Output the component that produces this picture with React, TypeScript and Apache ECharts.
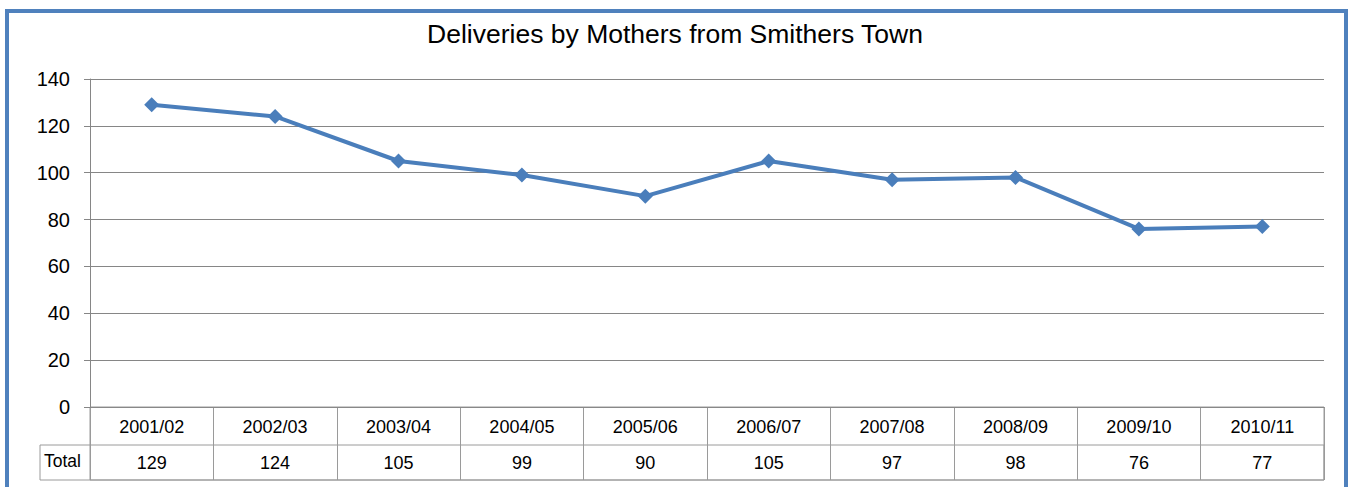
import React, { useEffect, useRef } from "react";
import * as echarts from "echarts";

const categories = ["2001/02", "2002/03", "2003/04", "2004/05", "2005/06", "2006/07", "2007/08", "2008/09", "2009/10", "2010/11"];
const totals = [129, 124, 105, 99, 90, 105, 97, 98, 76, 77];
const seriesName = "Total";
const titleText = "Deliveries by Mothers from Smithers Town";

export default function App() {
  const ref = useRef<HTMLDivElement>(null);
  useEffect(() => {
    if (!ref.current) return;
    const chart = echarts.init(ref.current, null, { renderer: "svg" });
    const font = "Liberation Sans, Arial, sans-serif";
    chart.setOption({
      animation: false,
      backgroundColor: "#ffffff",
      textStyle: { fontFamily: font },
      title: {
        text: titleText,
        left: "center",
        top: 15,
        textStyle: { fontFamily: font, fontSize: 26.5, fontWeight: "normal", color: "#000" },
      },
      grid: [
        { left: 90, right: 26, top: 79, bottom: 80, containLabel: false },
        { left: 90, right: 26, top: 407, bottom: 7, show: true, borderColor: "#9a9a9a", borderWidth: 1, containLabel: false },
      ],
      xAxis: [
        {
          type: "category",
          gridIndex: 0,
          data: categories,
          boundaryGap: true,
          axisLine: { show: true, lineStyle: { color: "#888", width: 1 } },
          axisTick: { show: false },
          splitLine: { show: false },
          axisLabel: {
            margin: 1,
            interval: 0,
            formatter: (v: string, i: number) => `{a|${v}}\n{b|${totals[i]}}`,
            rich: {
              a: { fontFamily: font, fontSize: 18, color: "#000", lineHeight: 37 },
              b: { fontFamily: font, fontSize: 18, color: "#000", lineHeight: 35 },
            },
          },
        },
        {
          type: "category",
          gridIndex: 1,
          data: categories,
          boundaryGap: true,
          position: "top",
          axisLine: { show: false },
          axisTick: { show: false },
          axisLabel: { show: false },
          splitLine: { show: true, lineStyle: { color: "#9a9a9a", width: 1 } },
        },
      ],
      yAxis: [
        {
          type: "value",
          gridIndex: 0,
          min: 0,
          max: 140,
          interval: 20,
          axisLine: { show: true, lineStyle: { color: "#868686", width: 1 } },
          axisTick: { show: true, length: 6, lineStyle: { color: "#868686" } },
          axisLabel: { fontFamily: font, fontSize: 20, color: "#000", margin: 20 },
          splitLine: { show: true, lineStyle: { color: "#868686", width: 1 } },
        },
        {
          type: "value",
          gridIndex: 1,
          min: 0,
          max: 1,
          show: false,
        },
      ],
      graphic: [
        {
          type: "rect",
          shape: { x: 7, y: 11, width: 1339, height: 500 },
          style: { fill: "none", stroke: "#4F81BD", lineWidth: 4 },
          silent: true,
        },
        {
          type: "rect",
          shape: { x: 40, y: 445, width: 1284, height: 35 },
          style: { fill: "none", stroke: "#9a9a9a", lineWidth: 1 },
          silent: true,
        },
        {
          type: "text",
          x: 44,
          y: 461,
          style: { text: seriesName, fontFamily: font, fontSize: 17.5, fill: "#000", verticalAlign: "middle", align: "left" },
          silent: true,
        },
      ],
      series: [
        {
          type: "line",
          name: seriesName,
          xAxisIndex: 0,
          yAxisIndex: 0,
          data: totals,
          symbol: "diamond",
          symbolSize: 15,
          lineStyle: { color: "#4A7EBB", width: 4 },
          itemStyle: { color: "#4A7EBB" },
        },
      ],
    });
    return () => chart.dispose();
  }, []);
  return <div ref={ref} style={{ position: "fixed", left: 0, top: 0, width: 1350, height: 487 }} />;
}
